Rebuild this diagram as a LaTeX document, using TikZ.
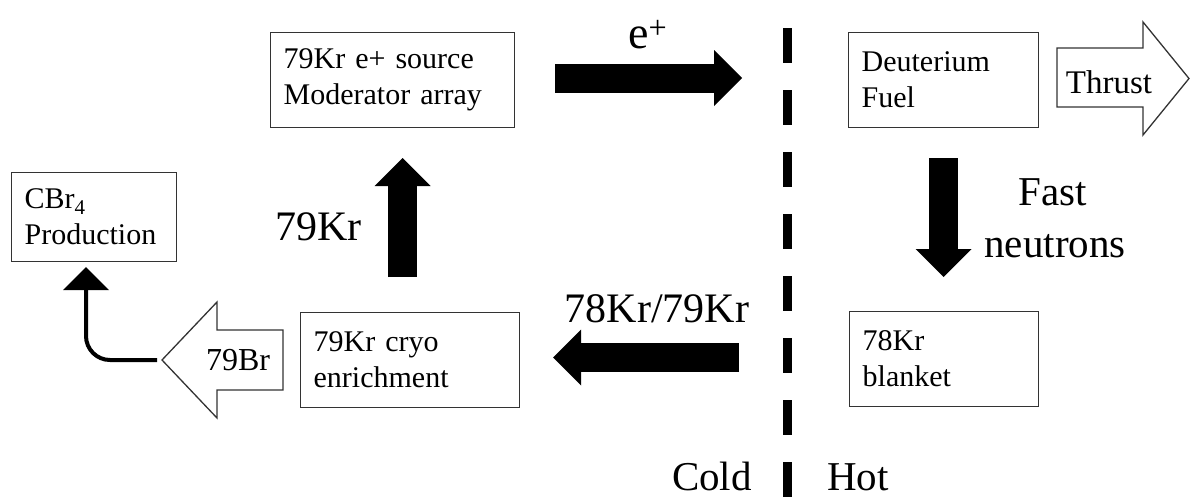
\documentclass[tikz,border=0pt]{standalone}
\usepackage{fontspec}
\setmainfont{Liberation Serif}
\usetikzlibrary{arrows.meta}
\begin{document}
\begin{tikzpicture}[x=1pt,y=-1pt,
  box/.style={draw=black!80, line width=1.3pt, anchor=north west, align=left,
    inner xsep=13pt, inner ysep=0pt, font=\fontsize{30}{36}\selectfont},
  blk/.style={line width=29pt, -{Triangle[length=28pt,width=56pt,line width=0pt]}},
  biglbl/.style={font=\fontsize{42}{50}\selectfont, inner sep=0pt},
  hollow/.style={draw=black!80, line width=1.3pt, fill=white, line join=miter},
  arrtxt/.style={inner sep=0pt, anchor=base}
]
\useasboundingbox (0,0) rectangle (1191,498);

% boxes
\node[box, text width=218pt, minimum height=95pt] (src) at (270,32) {79Kr e+ source\\Moderator array};
\node[box, text width=164pt, minimum height=95pt] (deut) at (848,32) {Deuterium\\Fuel};
\node[box, text width=139pt, minimum height=89pt] (cbr) at (11,172) {CBr\textsubscript{4}\\Production};
\node[box, text width=193pt, minimum height=95pt] (cryo) at (300,312) {79Kr cryo\\enrichment};
\node[box, text width=163pt, minimum height=95pt] (blanket) at (849,311) {78Kr\\blanket};

% divider
\coordinate (divtop) at (787.5,28);
\coordinate (divbot) at (787.5,498);
\draw[line width=9pt, dash pattern=on 35pt off 27pt] (divtop) -- (divbot);

% block arrows
\coordinate (eS) at (555,78);   \coordinate (eE) at (742,78);
\coordinate (uS) at (402.5,277); \coordinate (uE) at (402.5,158);
\coordinate (dS) at (943.5,158); \coordinate (dE) at (943.5,277);
\coordinate (lS) at (739,357.5); \coordinate (lE) at (553,357.5);
\draw[blk] (eS) -- (eE);
\draw[blk] (uS) -- (uE);
\draw[blk] (dS) -- (dE);
\draw[blk] (lS) -- (lE);

% hollow arrows
\draw[hollow] (162,360) -- (217,302) -- (217,330) -- (283,330) -- (283,390) -- (217,390) -- (217,418) -- cycle;
\node[arrtxt, font=\fontsize{32}{36}\selectfont] (br) at (238,370) {79Br};
\draw[hollow] (1057,48) -- (1143,48) -- (1143,22) -- (1189,78.5) -- (1143,135) -- (1143,107) -- (1057,107) -- cycle;
\node[arrtxt, font=\fontsize{33}{36}\selectfont] (thrust) at (1109,93) {Thrust};

% curved arrow to CBr4
\coordinate (brtip) at (157,360);
\coordinate (cbrin) at (86,267);
\draw[line width=4pt, rounded corners=24pt, -{Triangle[length=23pt,width=46pt,line width=0pt]}] (brtip) -| (cbrin);

% labels
\node[anchor=base west, inner sep=0pt, font=\fontsize{46}{50}\selectfont] (ep) at (628,48) {e\textsuperscript{+}};
\node[biglbl, anchor=base east] (kr79) at (362,240) {79Kr};
\node[biglbl, anchor=base] (kr7879) at (657,322) {78Kr/79Kr};
\node[biglbl, anchor=base, font=\fontsize{41}{50}\selectfont] (fast) at (1053,205) {Fast};
\node[biglbl, anchor=base, font=\fontsize{41}{50}\selectfont] (neut) at (1055,257) {neutrons};
\node[biglbl, anchor=base east, font=\fontsize{41}{50}\selectfont] (cold) at (752,490) {Cold};
\node[biglbl, anchor=base west, font=\fontsize{41}{50}\selectfont] (hot) at (827,490) {Hot};
\end{tikzpicture}
\end{document}
